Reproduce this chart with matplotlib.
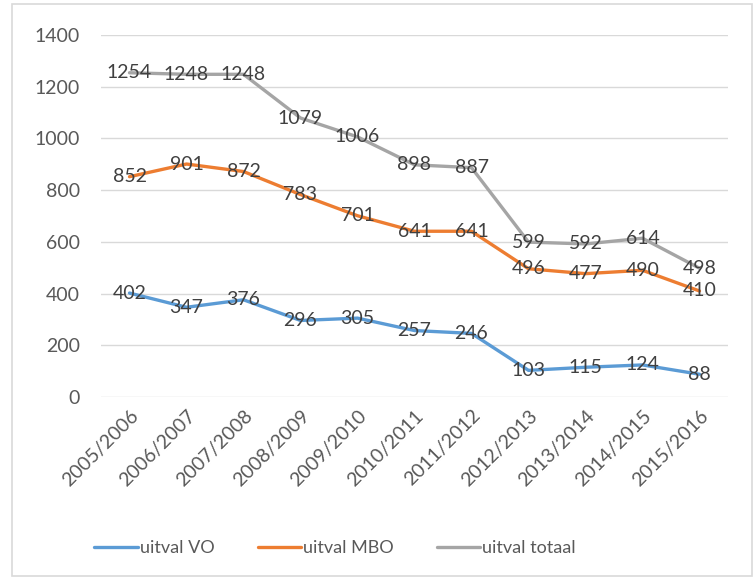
import matplotlib
matplotlib.use("Agg")
import matplotlib.pyplot as plt
from matplotlib.patches import Rectangle

years = ["2005/2006", "2006/2007", "2007/2008", "2008/2009", "2009/2010", "2010/2011",
         "2011/2012", "2012/2013", "2013/2014", "2014/2015", "2015/2016"]
uitval_vo = [402, 347, 376, 296, 305, 257, 246, 103, 115, 124, 88]
uitval_mbo = [852, 901, 872, 783, 701, 641, 641, 496, 477, 490, 410]
uitval_totaal = [1254, 1248, 1248, 1079, 1006, 898, 887, 599, 592, 614, 498]
series_names = ["uitval VO", "uitval MBO", "uitval totaal"]
colors = ["#5B9BD5", "#ED7D31", "#A5A5A5"]
yticks = [0, 200, 400, 600, 800, 1000, 1200, 1400]

plt.rcParams['font.family'] = ['Lato', 'DejaVu Sans']
FS = 14

fig = plt.figure(figsize=(7.56, 5.8), dpi=100)
fig.patches.append(Rectangle((12/756, 4/580), 740/756, 572/580, transform=fig.transFigure,
                             fill=False, edgecolor="#D9D9D9", linewidth=1.2))
ax = fig.add_axes([101/756, 1-397/580, 627/756, 362/580])

x = list(range(len(years)))
lines = []
for vals, name, c in zip([uitval_vo, uitval_mbo, uitval_totaal], series_names, colors):
    ln, = ax.plot(x, vals, color=c, linewidth=2.4, label=name, solid_capstyle='round', zorder=3)
    lines.append(ln)
    for xi, v in zip(x, vals):
        ax.text(xi, v, str(v), ha='center', va='center', fontsize=FS, color="#404040", zorder=4)

ax.set_xlim(-0.5, len(years) - 0.5)
ax.set_ylim(0, 1400)
ax.set_yticks(yticks)
ax.set_yticklabels([str(t) for t in yticks], fontsize=FS, color="#595959")
ax.set_xticks(x)
ax.set_xticklabels(years, rotation=45, ha='right', rotation_mode='anchor', fontsize=FS, color="#595959")
ax.tick_params(axis='both', length=0)
ax.tick_params(axis='y', pad=15)
ax.tick_params(axis='x', pad=7)
ax.grid(axis='y', color="#D9D9D9", linewidth=1)
ax.set_axisbelow(True)
for s in ax.spines.values():
    s.set_visible(False)

fig.legend(handles=lines, labels=series_names, loc='center', bbox_to_anchor=(335/756, 1-548/580),
           ncol=3, frameon=False, fontsize=13, handlelength=2.4, handletextpad=0.1,
           columnspacing=2.4, labelcolor="#595959")

fig.savefig("out.png", dpi=100)
